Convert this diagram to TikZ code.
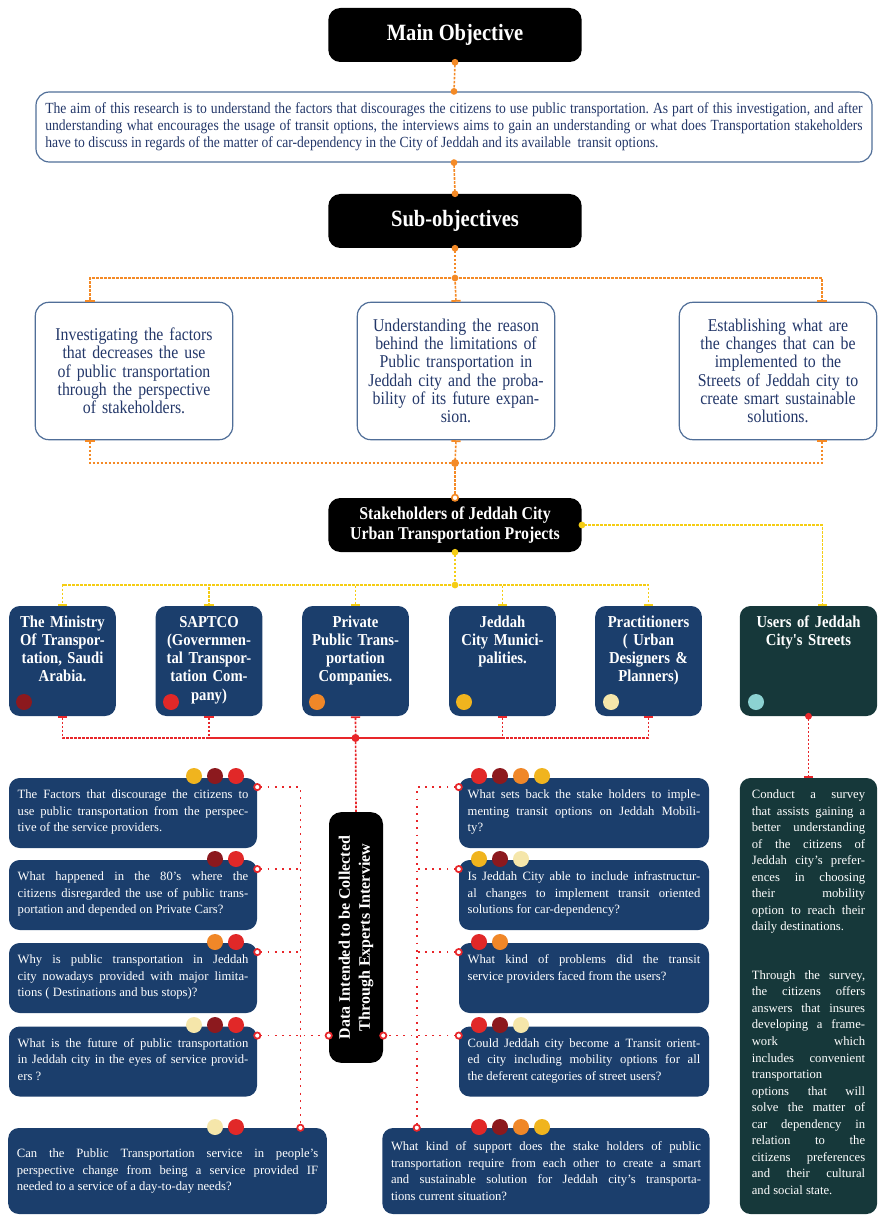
\documentclass[tikz,border=0pt]{standalone}
\usepackage{fontspec}
\setmainfont{Liberation Serif}
\newfontfamily\condfont[FakeStretch=0.88]{Liberation Serif}
\usetikzlibrary{arrows.meta}
\frenchspacing

\definecolor{boxblue}{RGB}{27,62,108}
\definecolor{boxteal}{RGB}{22,56,58}
\definecolor{edgeblue}{RGB}{80,110,152}
\definecolor{textblue}{RGB}{35,55,105}
\definecolor{orangec}{RGB}{244,138,38}
\definecolor{yellowc}{RGB}{245,205,20}
\definecolor{redc}{RGB}{232,38,42}
\definecolor{cdarkred}{RGB}{140,25,30}
\definecolor{cred}{RGB}{225,40,40}
\definecolor{corange}{RGB}{240,135,40}
\definecolor{cgold}{RGB}{240,180,30}
\definecolor{cpale}{RGB}{245,230,170}
\definecolor{ccyan}{RGB}{140,210,210}

\begin{document}
\begin{tikzpicture}[x=0.75pt,y=-0.75pt,
        titlebox/.style={fill=black, rounded corners=9pt, text=white, minimum width=190pt, minimum height=40.5pt, align=center, font=\condfont\bfseries\fontsize{17.5}{20}\selectfont},
        aimbox/.style={draw=edgeblue, line width=0.9pt, rounded corners=10pt, text=textblue, text width=613pt, inner xsep=7pt, minimum height=52.5pt, align=justify, font=\condfont\fontsize{11.6}{12.75}\selectfont},
        subbox/.style={draw=edgeblue, line width=0.9pt, rounded corners=10pt, text=textblue, text width=134pt, inner xsep=7pt, inner ysep=3pt, minimum height=103pt, align=center, font=\condfont\fontsize{13.5}{13.75}\selectfont},
        stakebox/.style={fill=boxblue, rounded corners=8pt, text=white, text width=70pt, inner xsep=5pt, inner ysep=4pt, text height=11.75pt, text depth=62.75pt, align=center, font=\condfont\bfseries\fontsize{12.5}{13.7}\selectfont},
        qbox/.style={fill=boxblue, rounded corners=8pt, text=white, inner xsep=6.5pt, inner ysep=4pt, align=justify, font=\fontsize{9.5}{12.4}\selectfont},
        qtop/.style={qbox, text width=173pt, text height=11.4pt, text depth=33.1pt},
        orangeline/.style={draw=orangec, line width=1.2pt, dash pattern=on 2pt off 1pt},
        yellowline/.style={draw=yellowc, line width=1.2pt, dash pattern=on 2pt off 1pt},
        redline/.style={draw=redc, line width=1.2pt, dash pattern=on 2pt off 1pt},
        reddots/.style={draw=redc, line width=1.3pt, dash pattern=on 1.4pt off 4pt},
        dotends/.style={arrows={Circle[length=5pt]-Circle[length=5pt]}, shorten <=-2.5pt, shorten >=-2.5pt},
        ringend/.style={arrows={-Circle[length=6pt,fill=white]}, shorten >=-3pt},
        ringends/.style={arrows={Circle[length=6pt,fill=white]-Circle[length=6pt,fill=white]}, shorten <=-3pt, shorten >=-3pt},
        ringstart/.style={arrows={Circle[length=6pt,fill=white]-}, shorten <=-3pt},
        barend/.style={arrows={-Bar[width=7pt,line width=1.3pt]}},
        barstart/.style={arrows={Bar[width=7pt,line width=1.3pt]-}}
    ]
    \useasboundingbox (0,0) rectangle (878,1216);

    % Objectives
    \node[titlebox] (main) at (455,35) {Main Objective};
    \node[aimbox] (aim) at (454,127) {The aim of this research is to understand the factors that discourages the citizens to use public transportation. As part of this investigation, and after\linebreak understanding what encourages the usage of transit options, the interviews aims to gain an understanding or what does Transportation stakeholders\linebreak have to discuss in regards of the matter of car-dependency in the City of Jeddah and its available\ \ transit options.};
    \node[titlebox] (subobj) at (455,221) {Sub-objectives};

    \node[subbox] (sub1) at (134,371) {Investigating the factors\\that decreases the use\\of public transportation\\through the perspective\\of stakeholders.};
    \node[subbox] (sub2) at (456,371) {Understanding the reason\\behind the limitations of\\Public transportation in\\Jeddah city and the proba-\\bility of its future expan-\\sion.};
    \node[subbox] (sub3) at (778,371) {Establishing what are\\the changes that can be\\implemented to the\\Streets of Jeddah city to\\create smart sustainable\\solutions.};

    % Stakeholders
    \node[titlebox, font=\condfont\bfseries\fontsize{13.5}{15}\selectfont] (stake) at (455,525) {Stakeholders of Jeddah City\\Urban Transportation Projects};

    \node[stakebox] (sh1) at (62.5,661) {The Ministry\\Of Transpor-\\tation, Saudi\\Arabia.};
    \node[stakebox] (sh2) at (209,661) {SAPTCO\\(Governmen-\\tal Transpor-\\tation Com-\\pany)};
    \node[stakebox] (sh3) at (355.5,661) {Private\\Public Trans-\\portation\\Companies.};
    \node[stakebox] (sh4) at (502.5,661) {Jeddah\\City Munici-\\palities.};
    \node[stakebox] (sh5) at (648.5,661) {Practitioners\\( Urban\\Designers \&\\Planners)};
    \node[stakebox, fill=boxteal, text width=93pt] (users) at (808.5,661) {Users of Jeddah\\City's Streets};

    % Interview data
    \node[titlebox, minimum width=188pt, minimum height=40.5pt, rotate=90, font=\bfseries\fontsize{12}{15}\selectfont] (data) at (356,937.5) {Data Intended to be Collected\\Through Experts Interview};

    \node[qtop] (q1) at (133,813) {The Factors that discourage the citizens to\linebreak use public transportation from the perspec-\linebreak tive of the service providers.};
    \node[qtop] (q2) at (133,895) {What happened in the 80's where the\linebreak citizens disregarded the use of public trans-\linebreak portation and depended on Private Cars?};
    \node[qtop] (q3) at (133,978) {Why is public transportation in Jeddah\linebreak city nowadays provided with major limita-\linebreak tions ( Destinations and bus stops)?};
    \node[qtop] (q4) at (133,1061.5) {What is the future of public transportation\linebreak in Jeddah city in the eyes of service provid-\linebreak ers ?};
    \node[qbox, text width=226pt, minimum height=64.5pt] (q5) at (167.5,1171) {Can the Public Transportation service in people's\linebreak perspective change from being a service provided IF\linebreak needed to a service of a day-to-day needs?};

    \node[qtop, text width=174.5pt] (r1) at (584,813) {What sets back the stake holders to imple-\linebreak menting transit options on Jeddah Mobili-\linebreak ty?};
    \node[qtop, text width=174.5pt] (r2) at (584,895) {Is Jeddah City able to include infrastructur-\linebreak al changes to implement transit oriented\linebreak solutions for car-dependency?};
    \node[qtop, text width=174.5pt] (r3) at (584,978) {What kind of problems did the transit\linebreak service providers faced from the users?};
    \node[qtop, text width=174.5pt] (r4) at (584,1061.5) {Could Jeddah city become a Transit orient-\linebreak ed city including mobility options for all\linebreak the deferent categories of street users?};
    \node[qbox, text width=232.5pt, minimum height=64.5pt] (r5) at (546,1171) {What kind of support does the stake holders of public\linebreak transportation require from each other to create a smart\linebreak and sustainable solution for Jeddah city's transporta-\linebreak tions current situation?};

    \node[qbox, fill=boxteal, text width=85pt, inner xsep=9pt, text height=11.4pt, text depth=307.6pt] (survey) at (808.5,996) {Conduct a survey\linebreak that assists gaining a\linebreak better understanding\linebreak of the citizens of\linebreak Jeddah city's prefer-\linebreak ences in choosing\linebreak their mobility\linebreak option to reach their\linebreak daily destinations.\par\vspace{24pt}
        Through the survey,\linebreak the citizens offers\linebreak answers that insures\linebreak developing a frame-\linebreak work which\linebreak includes convenient\linebreak transportation\linebreak options that will\linebreak solve the matter of\linebreak car dependency in\linebreak relation to the\linebreak citizens preferences\linebreak and their cultural\linebreak and social state.};

    % Colour marks
    \foreach \x/\c in {24/cdarkred, 171/cred, 317/corange, 464/cgold, 611/cpale, 756/ccyan}
        \fill[\c] (\x,702) circle (6pt);
    \foreach \x/\y/\c in {194/776/cgold, 215/776/cdarkred, 236/776/cred,
                          215/859/cdarkred, 236/859/cred,
                          215/942/corange, 236/942/cred,
                          194/1025/cpale, 215/1025/cdarkred, 236/1025/cred,
                          215/1127/cpale, 236/1127/cred,
                          479/776/cred, 500/776/cdarkred, 521/776/corange, 542/776/cgold,
                          479/859/cgold, 500/859/cdarkred, 521/859/cpale,
                          479/942/cred, 500/942/corange,
                          479/1025/cred, 500/1025/cdarkred, 521/1025/cpale,
                          479/1127/cred, 500/1127/cdarkred, 521/1127/corange, 542/1127/cgold}
        \fill[\c] (\x,\y) circle (6pt);

    % Junctions
    \coordinate (j1) at (455,278);
    \coordinate (j2) at (455,463);
    \coordinate (j3) at (455,585);
    \coordinate (j4) at (355.5,738);

    % Orange links
    \draw[orangeline, dotends] (main.south) -- (aim.north);
    \draw[orangeline, dotends] (aim.south) -- (subobj.north);
    \draw[orangeline, dotends] (subobj.south) -- (j1);
    \draw[orangeline, barend] (j1) -| ([xshift=-33pt]sub1.north);
    \draw[orangeline, barend] (j1) -- (sub2.north);
    \draw[orangeline, barend] (j1) -| ([xshift=33pt]sub3.north);
    \draw[orangeline, barstart] ([xshift=-33pt]sub1.south) |- (j2);
    \draw[orangeline, barstart] (sub2.south) -- (j2);
    \draw[orangeline, barstart] ([xshift=33pt]sub3.south) |- (j2);
    \draw[orangeline, ringend] (j2) -- (stake.north);
    \fill[orangec] (j2) circle (3pt);

    % Yellow links
    \draw[yellowline, dotends] (stake.south) -- (j3);
    \draw[yellowline, arrows={Circle[length=5pt]-Bar[width=7pt,line width=1.3pt]}, shorten <=-2.5pt] (stake.east) -| ([xshift=10.5pt]users.north);
    \foreach \n in {sh1,sh2,sh3,sh4,sh5}
        \draw[yellowline, barend] (j3) -| (\n.north);

    % Red links
    \foreach \n in {sh1,sh2,sh4,sh5}
        \draw[redline, barstart] (\n.south) |- (j4);
    \draw[redline, barstart] (sh3.south) -- (data.east);
    \fill[redc] (j4) circle (3pt);
    \draw[redline, arrows={Circle[length=5pt]-Bar[width=7pt,line width=1.3pt]}, shorten <=-2.5pt] (users.south) -- (survey.north);

    % Question links
    \coordinate (lcol) at ([xshift=-20pt]q5.north east);
    \coordinate (rcol) at ([xshift=26pt]r5.north west);
    \foreach \n in {q1,q2,q3,q4}
        \coordinate (\n p) at ([yshift=-7pt]\n.north east);
    \foreach \n in {r1,r2,r3,r4}
        \coordinate (\n p) at ([yshift=-7pt]\n.north west);
    \draw[reddots, ringends] (q1p) -| (lcol);
    \draw[reddots, ringstart] (q2p) -- (q2p -| lcol);
    \draw[reddots, ringstart] (q3p) -- (q3p -| lcol);
    \draw[reddots, ringends] (q4p) -- (q4p -| data.north);
    \draw[reddots, ringends] (r1p) -| (rcol);
    \draw[reddots, ringstart] (r2p) -- (r2p -| rcol);
    \draw[reddots, ringstart] (r3p) -- (r3p -| rcol);
    \draw[reddots, ringends] (r4p) -- (r4p -| data.south);

\end{tikzpicture}
\end{document}
